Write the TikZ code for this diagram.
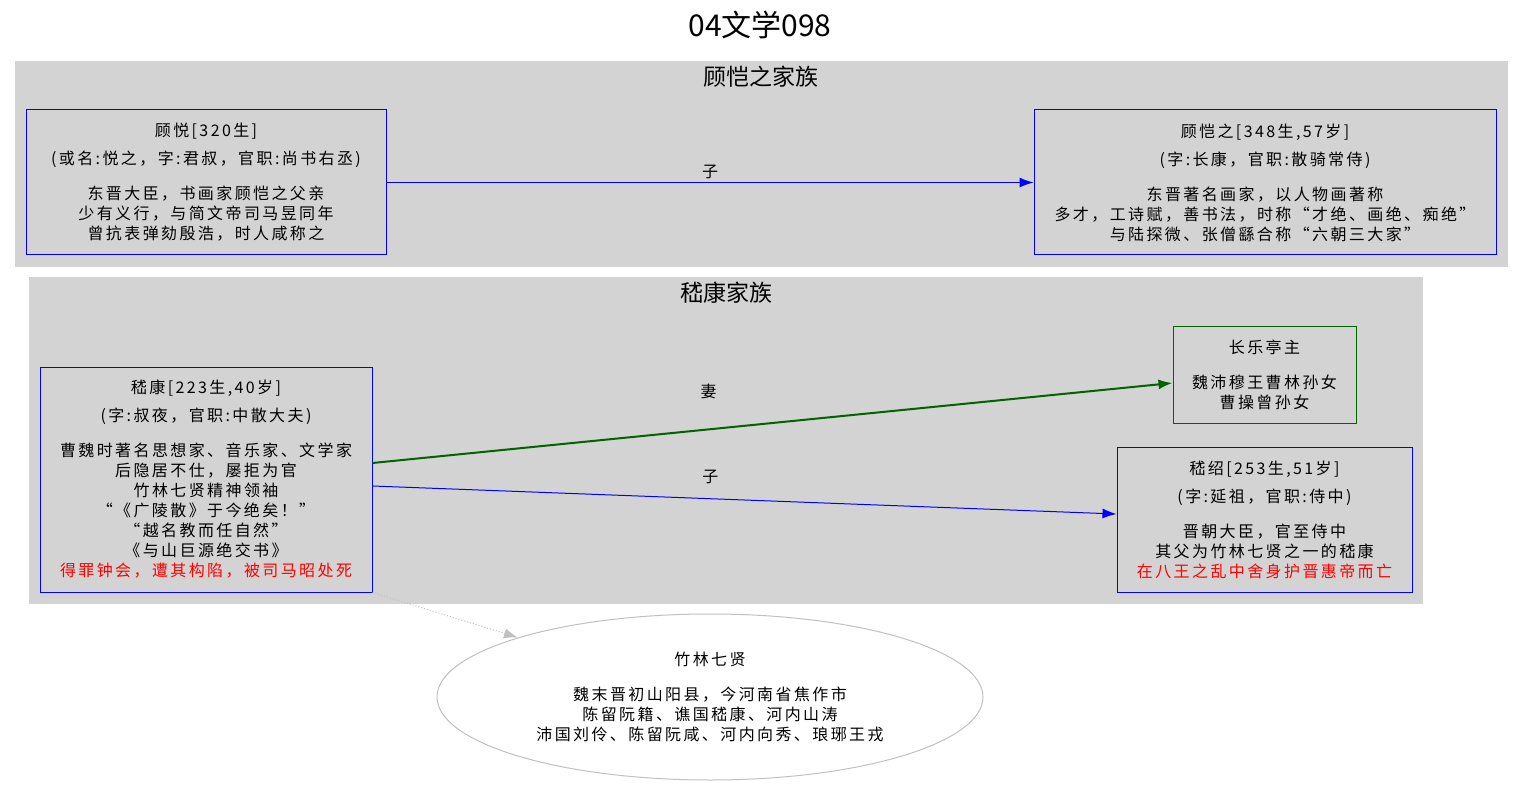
\documentclass[tikz,border=0pt]{standalone}
\usepackage{fontspec}
\setmainfont{Noto Sans CJK SC}
\newfontfamily\cjk[LetterSpace=15]{Noto Sans CJK SC}
\usetikzlibrary{arrows.meta, shapes.geometric, positioning}
\definecolor{clustergray}{HTML}{D3D3D3}
\definecolor{wifegreen}{HTML}{006400}
\definecolor{bamboogray}{HTML}{C0C0C0}

\begin{document}
\begin{tikzpicture}[x=1pt,y=-1pt]

\tikzset{person/.style = {shape=rectangle,draw=blue,line width=1pt,inner sep=0pt,align=center,font=\cjk\fontsize{16}{20}\selectfont}}
\tikzset{wife/.style = {person,draw=wifegreen}}
\tikzset{edge/.style = {-{Latex[length=14pt,width=10pt]},line width=1pt}}
\tikzset{cluster/.style = {fill=clustergray,draw=none}}
\tikzset{lbl/.style = {font=\cjk\fontsize{16}{20}\selectfont,inner sep=0pt,text=black}}
\useasboundingbox (0,0) rectangle (1523,786);

% title
\node[font=\fontsize{30}{34}\selectfont] (title) at (760,25) {04文学098};
% clusters
\fill[cluster] (15,61) rectangle (1508,267);
\node[font=\fontsize{23}{26}\selectfont] (gutitle) at (761,77) {顾恺之家族};
\fill[cluster] (29,277) rectangle (1423,604);
\node[font=\fontsize{23}{26}\selectfont] (jititle) at (726,293) {嵇康家族};
% vertices
\node[person, minimum width=360, minimum height=145] (guyue) at (206,182.5)
  {顾悦[320生]\\[8pt](或名:悦之，字:君叔，官职:尚书右丞)\\[15pt]东晋大臣，书画家顾恺之父亲\\少有义行，与简文帝司马昱同年\\曾抗表弹劾殷浩，时人咸称之};
\node[person, minimum width=462, minimum height=145] (gukaizhi) at (1265,182.5)
  {顾恺之[348生,57岁]\\[8pt](字:长康，官职:散骑常侍)\\[15pt]东晋著名画家，以人物画著称\\多才，工诗赋，善书法，时称“才绝、画绝、痴绝”\\与陆探微、张僧繇合称“六朝三大家”};
\node[person, minimum width=332, minimum height=225] (jikang) at (206,479.5)
  {嵇康[223生,40岁]\\[8pt](字:叔夜，官职:中散大夫)\\[15pt]曹魏时著名思想家、音乐家、文学家\\后隐居不仕，屡拒为官\\竹林七贤精神领袖\\“《广陵散》于今绝矣！”\\“越名教而任自然”\\《与山巨源绝交书》\\\textcolor{red}{得罪钟会，遭其构陷，被司马昭处死}};
\node[wife, minimum width=183, minimum height=97] (changle) at (1264.5,374.5)
  {长乐亭主\\[15pt]魏沛穆王曹林孙女\\曹操曾孙女};
\node[person, minimum width=295, minimum height=145] (jishao) at (1264.5,519.5)
  {嵇绍[253生,51岁]\\[8pt](字:延祖，官职:侍中)\\[15pt]晋朝大臣，官至侍中\\其父为竹林七贤之一的嵇康\\\textcolor{red}{在八王之乱中舍身护晋惠帝而亡}};
\node[shape=ellipse, draw=bamboogray, line width=1pt, minimum width=546, minimum height=166, inner sep=0pt, align=center, font=\cjk\fontsize{16}{20}\selectfont] (zhulin) at (710,697)
  {竹林七贤\\[15pt]魏末晋初山阳县，今河南省焦作市\\陈留阮籍、谯国嵇康、河内山涛\\沛国刘伶、陈留阮咸、河内向秀、琅琊王戎};
% edges
\draw[edge, blue] (guyue) -- (gukaizhi) node[lbl, midway, yshift=11] {子};
\draw[edge, wifegreen, line width=2pt] (jikang.east |- 0,463) -- (changle.west |- 0,383) node[lbl, pos=0.42, yshift=38] {妻};
\draw[edge, blue] (jikang.east |- 0,486) -- (jishao.west |- 0,514) node[lbl, pos=0.454, yshift=22] {子};
\draw[edge, bamboogray, dotted] (jikang.south east) -- (zhulin);

\end{tikzpicture}
\end{document}
